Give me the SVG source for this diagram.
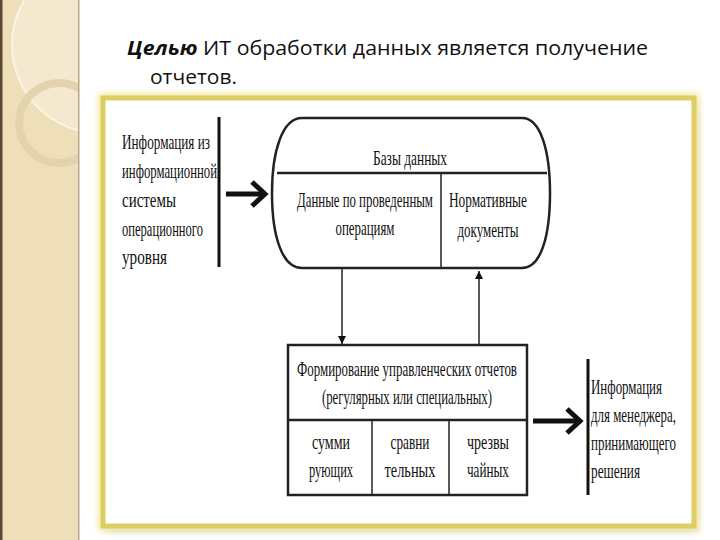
<svg xmlns="http://www.w3.org/2000/svg" width="720" height="540" viewBox="0 0 720 540">
<defs>
<style>
.t{font-family:"Liberation Serif","Times New Roman",serif;font-size:21px;fill:#111}
.h{font-family:"Open Sans","Noto Sans",sans-serif;font-size:20px;fill:#111}
.box{fill:none;stroke:#222;stroke-width:2.5}
.thin{fill:none;stroke:#222;stroke-width:1.5}
.bar{fill:none;stroke:#111;stroke-width:3}
.big{fill:none;stroke:#111;stroke-width:5}
</style>
<filter id="blur" x="-10%" y="-10%" width="120%" height="120%"><feGaussianBlur stdDeviation="3"/></filter>
<clipPath id="stripe"><rect x="0" y="0" width="79" height="540"/></clipPath>
<marker id="ah" viewBox="0 0 10 10" refX="10" refY="5" markerWidth="8" markerHeight="10" markerUnits="userSpaceOnUse" orient="auto"><path d="M0,0 L10,5 L0,10 Z" fill="#111"/></marker>
</defs>
<rect width="720" height="540" fill="#fff"/>
<g id="stripe-bg">
<rect x="0" y="0" width="79" height="540" fill="#efdfb8"/>
<g clip-path="url(#stripe)">
<circle cx="100" cy="45" r="88" fill="#f4e9cf"/>
<circle cx="100" cy="45" r="88" fill="none" stroke="#faf4e6" stroke-width="2"/>
<circle cx="59" cy="123" r="40" fill="none" stroke="#e2d3ae" stroke-width="8"/>
</g>
<rect x="0" y="0" width="2.5" height="540" fill="#5a4632"/>
<rect x="78" y="0" width="1.5" height="540" fill="#b8a98c"/>
</g>
<g id="title">
<text class="h" x="127" y="55" textLength="521" lengthAdjust="spacingAndGlyphs"><tspan font-weight="bold" font-style="italic">Целью</tspan> ИТ обработки данных  является получение</text>
<text class="h" x="150" y="84" textLength="87" lengthAdjust="spacingAndGlyphs">отчетов.</text>
</g>
<g id="frame">
<rect x="106" y="102" width="592" height="430" fill="#999" opacity="0.35" filter="url(#blur)"/>
<rect x="103" y="98" width="591" height="428" fill="#fff" stroke="#f3e79a" stroke-width="9" filter="url(#blur)"/>
<rect x="103" y="98" width="591" height="428" fill="#fff" stroke="#ddcd62" stroke-width="5"/>
</g>
<g id="source">
<line class="bar" x1="219" y1="117" x2="219" y2="267"/>
<g transform="scale(0.7,1)">
<text class="t" x="174.3" y="149" textLength="125.7" lengthAdjust="spacingAndGlyphs">Информация из</text>
<text class="t" x="174.3" y="178" textLength="135.7" lengthAdjust="spacingAndGlyphs">информационной</text>
<text class="t" x="174.3" y="207" textLength="77.1" lengthAdjust="spacingAndGlyphs">системы</text>
<text class="t" x="174.3" y="236" textLength="115.7" lengthAdjust="spacingAndGlyphs">операционного</text>
<text class="t" x="174.3" y="264" textLength="64.3" lengthAdjust="spacingAndGlyphs">уровня</text>
</g>
</g>
<g id="databases">
<path class="box" d="M302,118 L522,118 C541,118 550,152 550,193 C550,236 541,268 522,268 L302,268 C282,268 272,236 272,193 C272,152 282,118 302,118 Z"/>
<line class="box" x1="277" y1="173" x2="547" y2="173"/>
<line class="thin" x1="441" y1="173" x2="441" y2="268"/>
<g transform="scale(0.7,1)" text-anchor="middle">
<text class="t" x="585.7" y="165" textLength="105.7" lengthAdjust="spacingAndGlyphs">Базы данных</text>
<text class="t" x="521.4" y="207" textLength="194.3" lengthAdjust="spacingAndGlyphs">Данные по проведенным</text>
<text class="t" x="521.4" y="235" textLength="84.3" lengthAdjust="spacingAndGlyphs">операциям</text>
<text class="t" x="697.1" y="207" textLength="111.4" lengthAdjust="spacingAndGlyphs">Нормативные</text>
<text class="t" x="697.1" y="237" textLength="87.1" lengthAdjust="spacingAndGlyphs">документы</text>
</g>
</g>
<g id="reports">
<rect class="box" x="288" y="345" width="239" height="150"/>
<line class="box" x1="288" y1="420" x2="527" y2="420"/>
<line class="thin" x1="372" y1="420" x2="372" y2="495"/>
<line class="thin" x1="449" y1="420" x2="449" y2="495"/>
<g transform="scale(0.7,1)" text-anchor="middle">
<text class="t" x="581.4" y="376" textLength="314.3" lengthAdjust="spacingAndGlyphs">Формирование управленческих отчетов</text>
<text class="t" x="581.4" y="404" textLength="242.9" lengthAdjust="spacingAndGlyphs">(регулярных или специальных)</text>
<text class="t" x="472.9" y="449" textLength="54.3" lengthAdjust="spacingAndGlyphs">сумми</text>
<text class="t" x="472.9" y="477" textLength="62.9" lengthAdjust="spacingAndGlyphs">рующих</text>
<text class="t" x="585.7" y="449" textLength="55.7" lengthAdjust="spacingAndGlyphs">сравни</text>
<text class="t" x="585.7" y="477" textLength="72.9" lengthAdjust="spacingAndGlyphs">тельных</text>
<text class="t" x="697.1" y="449" textLength="60" lengthAdjust="spacingAndGlyphs">чрезвы</text>
<text class="t" x="697.1" y="477" textLength="60" lengthAdjust="spacingAndGlyphs">чайных</text>
</g>
</g>
<g id="output">
<line class="bar" x1="588" y1="359" x2="588" y2="495"/>
<g transform="scale(0.7,1)">
<text class="t" x="844.3" y="394" textLength="101.4" lengthAdjust="spacingAndGlyphs">Информация</text>
<text class="t" x="844.3" y="422" textLength="121.4" lengthAdjust="spacingAndGlyphs">для менеджера,</text>
<text class="t" x="844.3" y="450" textLength="121.4" lengthAdjust="spacingAndGlyphs">принимающего</text>
<text class="t" x="844.3" y="478" textLength="70" lengthAdjust="spacingAndGlyphs">решения</text>
</g>
</g>
<g id="connectors">
<line class="big" x1="226" y1="194" x2="263" y2="194"/>
<polyline class="big" points="252,182 265,194 252,206" stroke-linejoin="miter"/>
<line class="big" x1="533" y1="421" x2="578" y2="421"/>
<polyline class="big" points="567,409 580,421 567,433" stroke-linejoin="miter"/>
<line class="thin" x1="342" y1="269" x2="342" y2="344" marker-end="url(#ah)"/>
<line class="thin" x1="479" y1="345" x2="479" y2="271" marker-end="url(#ah)"/>
</g>
</svg>
